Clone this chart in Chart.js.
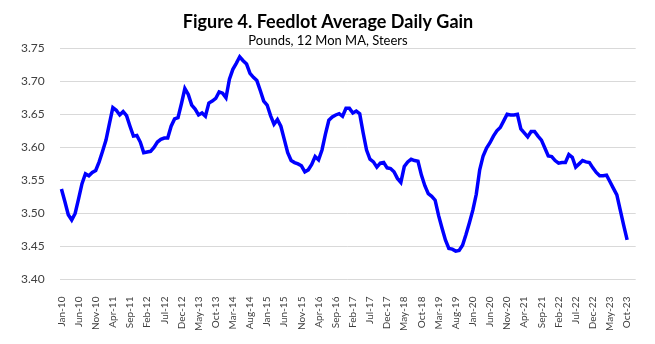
<!DOCTYPE html>
<html>
<head>
<meta charset="utf-8">
<script src="https://cdn.jsdelivr.net/npm/chart.js@4.4.1/dist/chart.umd.min.js"></script>
<style>
  html, body { margin: 0; padding: 0; background: #ffffff; }
  #wrap { width: 655px; height: 344px; }
</style>
</head>
<body>
<div id="wrap"><canvas id="adgChart"></canvas></div>
<script>
// Monthly categories run Jan-10 .. Dec-23 (the last two months have no data yet)
const meses = ['Jan', 'Feb', 'Mar', 'Apr', 'May', 'Jun', 'Jul', 'Aug', 'Sep', 'Oct', 'Nov', 'Dec'];
const anios = [10, 11, 12, 13, 14, 15, 16, 17, 18, 19, 20, 21, 22, 23];

// Average daily gain, steers, 12 month moving average (lbs)
const adg2010 = [3.537, 3.518, 3.498, 3.490, 3.500, 3.522, 3.545, 3.560, 3.557, 3.562, 3.565, 3.578];
const adg2011 = [3.594, 3.611, 3.636, 3.660, 3.656, 3.649, 3.654, 3.648, 3.632, 3.617, 3.618, 3.608];
const adg2012 = [3.592, 3.593, 3.594, 3.600, 3.608, 3.612, 3.614, 3.614, 3.632, 3.643, 3.645, 3.666];
const adg2013 = [3.689, 3.680, 3.664, 3.658, 3.649, 3.652, 3.647, 3.667, 3.670, 3.674, 3.684, 3.682];
const adg2014 = [3.675, 3.703, 3.718, 3.727, 3.737, 3.731, 3.726, 3.712, 3.706, 3.701, 3.686, 3.670];
const adg2015 = [3.664, 3.648, 3.635, 3.642, 3.632, 3.612, 3.592, 3.580, 3.577, 3.575, 3.572, 3.563];
const adg2016 = [3.566, 3.574, 3.586, 3.581, 3.596, 3.620, 3.641, 3.646, 3.649, 3.651, 3.647, 3.659];
const adg2017 = [3.659, 3.652, 3.655, 3.651, 3.622, 3.596, 3.582, 3.578, 3.570, 3.576, 3.577, 3.569];
const adg2018 = [3.568, 3.563, 3.553, 3.547, 3.571, 3.578, 3.582, 3.580, 3.579, 3.558, 3.542, 3.530];
const adg2019 = [3.526, 3.520, 3.497, 3.478, 3.460, 3.447, 3.446, 3.443, 3.444, 3.452, 3.468, 3.486];
const adg2020 = [3.505, 3.529, 3.566, 3.587, 3.599, 3.607, 3.617, 3.625, 3.630, 3.640, 3.650, 3.649];
const adg2021 = [3.649, 3.650, 3.628, 3.622, 3.616, 3.624, 3.624, 3.617, 3.611, 3.599, 3.587, 3.586];
const adg2022 = [3.580, 3.576, 3.577, 3.577, 3.589, 3.585, 3.570, 3.575, 3.580, 3.578, 3.577, 3.569];
const adg2023 = [3.562, 3.557, 3.557, 3.558, 3.548, 3.538, 3.528, 3.505, 3.482, 3.460];

const yTicks = [3.40, 3.45, 3.50, 3.55, 3.60, 3.65, 3.70, 3.75];

const labels = [];
anios.forEach(a => meses.forEach(m => labels.push(m + '-' + a)));

const adg = [].concat(adg2010, adg2011, adg2012, adg2013, adg2014, adg2015, adg2016,
                      adg2017, adg2018, adg2019, adg2020, adg2021, adg2022, adg2023);

const fuente = 'Lato, "Open Sans", sans-serif';

new Chart(document.getElementById('adgChart'), {
    type: 'line',
    data: {
        labels: labels,
        datasets: [{
            label: 'ADG',
            data: adg,
            borderColor: '#0000ff',
            borderWidth: 3.5,
            pointRadius: 0,
            tension: 0,
            fill: false
        }]
    },
    options: {
        responsive: true,
        maintainAspectRatio: false,
        animation: false,
        layout: { padding: { left: 6, right: 5, top: 4, bottom: 4 } },
        plugins: {
            legend: { display: false },
            tooltip: { enabled: false },
            title: {
                display: true,
                text: 'Figure 4. Feedlot Average Daily Gain',
                color: '#000000',
                font: { family: fuente, size: 18, weight: 'bold' },
                padding: { top: 7, bottom: 0 }
            },
            subtitle: {
                display: true,
                text: 'Pounds, 12 Mon MA, Steers',
                color: '#000000',
                font: { family: fuente, size: 13 },
                padding: { top: 0, bottom: 0 }
            }
        },
        scales: {
            x: {
                offset: true,
                grid: { display: false },
                border: { display: false },
                ticks: {
                    autoSkip: false,
                    maxRotation: 90,
                    minRotation: 90,
                    padding: 9,
                    color: '#404040',
                    font: { family: fuente, size: 10 },
                    callback: function(val, idx) {
                        return idx % 5 === 0 ? this.getLabelForValue(val) : '';
                    }
                }
            },
            y: {
                min: 3.40,
                max: 3.75,
                afterBuildTicks: axis => { axis.ticks = yTicks.map(v => ({ value: v })); },
                grid: { color: '#d9d9d9', lineWidth: 1, drawTicks: false },
                border: { display: false },
                ticks: {
                    padding: 15,
                    color: '#404040',
                    font: { family: fuente, size: 12 },
                    callback: v => Number(v).toFixed(2)
                }
            }
        }
    }
});
</script>
</body>
</html>
